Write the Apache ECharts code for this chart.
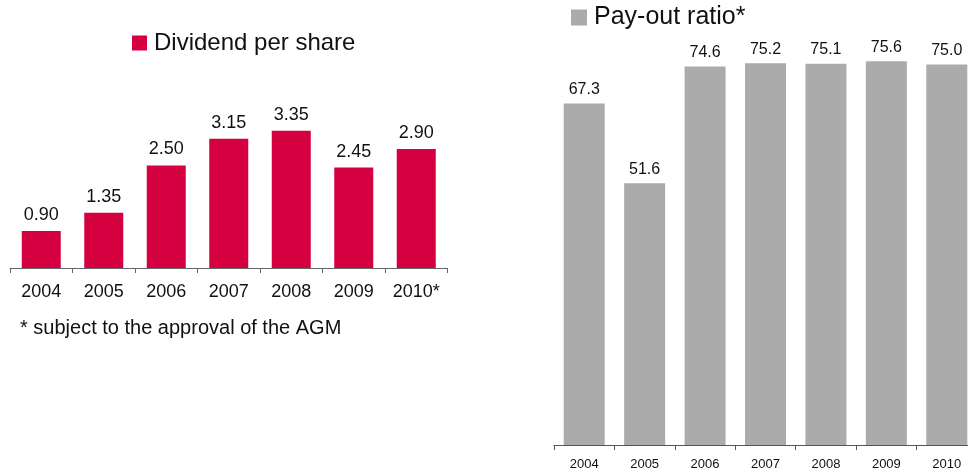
<!DOCTYPE html>
<html><head><meta charset="utf-8">
<script src="https://cdn.jsdelivr.net/npm/echarts@6/dist/echarts.min.js"></script>
<style>html,body{margin:0;padding:0;background:#fff}#c{width:968px;height:473px}</style>
</head><body><div id="c"></div>
<script>
const dpsYears = ['2004','2005','2006','2007','2008','2009','2010*'];
const dpsValues = [0.90, 1.35, 2.50, 3.15, 3.35, 2.45, 2.90];
const payoutYears = ['2004','2005','2006','2007','2008','2009','2010'];
const payoutValues = [67.3, 51.6, 74.6, 75.2, 75.1, 75.6, 75.0];
const footnote = '* subject to the approval of the AGM';

const FONT = '"Liberation Sans", Arial, sans-serif';
const chart = echarts.init(document.getElementById('c'));
chart.setOption({
  animation: false,
  textStyle: {fontFamily: FONT},
  legend: [
    {left: 132, top: 31, padding: 0, icon: 'rect', itemWidth: 15, itemHeight: 15, itemGap: 0,
     data: ['Dividend per share'], textStyle: {fontSize: 24, color: '#111', fontFamily: FONT, padding: [0,0,0,2]}},
    {left: 571, top: 5, padding: 0, icon: 'rect', itemWidth: 16, itemHeight: 16, itemGap: 0,
     data: ['Pay-out ratio*'], textStyle: {fontSize: 25, color: '#111', fontFamily: FONT, padding: [0,0,0,2]}}
  ],
  graphic: [{type: 'text', left: 20, top: 318, style: {text: footnote, fontSize: 20, fill: '#111', fontFamily: FONT}}],
  grid: [
    {left: 10, width: 437.5, top: 104, bottom: 205, outerBoundsMode: 'none', containLabel: false},
    {left: 554, width: 423, top: 39, bottom: 28, outerBoundsMode: 'none', containLabel: false}
  ],
  xAxis: [
    {gridIndex: 0, type: 'category', data: dpsYears,
     axisLine: {show: true, lineStyle: {color: '#666', width: 1}},
     axisTick: {show: true, alignWithLabel: false, length: 5, lineStyle: {color: '#666'}},
     axisLabel: {fontSize: 18, color: '#111', margin: 15, fontFamily: FONT}},
    {gridIndex: 1, type: 'category', data: payoutYears,
     axisLine: {show: true, lineStyle: {color: '#555', width: 1}},
     axisTick: {show: true, alignWithLabel: false, length: 5, lineStyle: {color: '#555'}},
     axisLabel: {fontSize: 13, color: '#111', margin: 13, fontFamily: FONT}}
  ],
  yAxis: [
    {gridIndex: 0, type: 'value', min: 0, max: 4, show: false},
    {gridIndex: 1, type: 'value', min: 0, max: 80, show: false}
  ],
  series: [
    {name: 'Dividend per share', type: 'bar', xAxisIndex: 0, yAxisIndex: 0, data: dpsValues,
     barWidth: 39, itemStyle: {color: '#D5003F'},
     label: {show: true, position: 'top', distance: 7, fontSize: 18, color: '#111', fontFamily: FONT,
             formatter: p => p.value.toFixed(2)}},
    {name: 'Pay-out ratio*', type: 'bar', xAxisIndex: 1, yAxisIndex: 1, data: payoutValues,
     barWidth: 41, itemStyle: {color: '#ABABAB'},
     label: {show: true, position: 'top', distance: 6, fontSize: 16, color: '#111', fontFamily: FONT,
             formatter: p => p.value.toFixed(1)}}
  ]
});
</script></body></html>
